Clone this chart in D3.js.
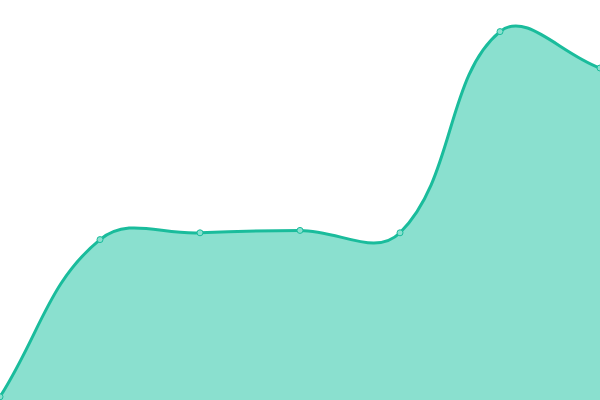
<!DOCTYPE html>
<html lang="en">
<head>
    <meta charset="UTF-8">
    <title>Area</title>
    <script src="https://cdn.jsdelivr.net/npm/d3@7"></script>
    <style>
        html, body { margin: 0; padding: 0; background: #fff; }
        svg { display: block; }
    </style>
</head>
<body>
    <div id="chart"></div>
    <script>
        // values
        var labels = ["A", "B", "C", "D", "E", "F", "G"];
        var values = [0.8, 40.1, 41.8, 42.4, 41.8, 92.1, 83];

        var width = 600,
            height = 400;

        // spline with control points weighted by segment length (tension 0.4)
        function SplineCurve(context) {
            this._context = context;
            this._tension = 0.4;
        }
        SplineCurve.prototype = {
            areaStart: function () { this._line = 0; },
            areaEnd: function () { this._line = NaN; },
            lineStart: function () { this._pts = []; },
            point: function (x, y) { this._pts.push([+x, +y]); },
            lineEnd: function () {
                var p = this._pts, n = p.length, ctx = this._context, t = this._tension;
                if (n) {
                    if (this._line) ctx.lineTo(p[0][0], p[0][1]);
                    else ctx.moveTo(p[0][0], p[0][1]);
                }
                var cps = p.map(function (cur, i) {
                    var prev = p[Math.max(i - 1, 0)], next = p[Math.min(i + 1, n - 1)];
                    var d01 = Math.hypot(cur[0] - prev[0], cur[1] - prev[1]);
                    var d12 = Math.hypot(next[0] - cur[0], next[1] - cur[1]);
                    var s01 = d01 / (d01 + d12) || 0, s12 = d12 / (d01 + d12) || 0;
                    var fa = t * s01, fb = t * s12;
                    return {
                        px: cur[0] - fa * (next[0] - prev[0]),
                        py: cur[1] - fa * (next[1] - prev[1]),
                        nx: cur[0] + fb * (next[0] - prev[0]),
                        ny: cur[1] + fb * (next[1] - prev[1])
                    };
                });
                for (var i = 1; i < n; i++) {
                    ctx.bezierCurveTo(cps[i - 1].nx, cps[i - 1].ny, cps[i].px, cps[i].py, p[i][0], p[i][1]);
                }
                if (this._line || (this._line !== 0 && n === 1)) ctx.closePath();
                this._line = 1 - this._line;
            }
        };
        function splineCurve(context) { return new SplineCurve(context); }

        var svg = d3.select("#chart").append("svg")
            .attr("width", width)
            .attr("height", height);

        var x = d3.scalePoint()
            .domain(labels)
            .range([0, width]);

        var y = d3.scaleLinear()
            .domain([0, 100])
            .range([height, 0]);

        var area = d3.area()
            .x(function (d, i) { return x(labels[i]); })
            .y0(height)
            .y1(function (d) { return y(d); })
            .curve(splineCurve);

        var line = d3.line()
            .x(function (d, i) { return x(labels[i]); })
            .y(function (d) { return y(d); })
            .curve(splineCurve);

        svg.append("path")
            .datum(values)
            .attr("fill", "#8ae0cf")
            .attr("d", area);

        svg.append("path")
            .datum(values)
            .attr("fill", "none")
            .attr("stroke", "#1abc9c")
            .attr("stroke-width", 3)
            .attr("d", line);

        svg.append("g")
            .selectAll("circle")
            .data(values)
            .enter().append("circle")
            .attr("cx", function (d, i) { return x(labels[i]); })
            .attr("cy", function (d) { return y(d); })
            .attr("r", 3)
            .attr("fill", "#8ae0cf")
            .attr("stroke", "#1abc9c")
            .attr("stroke-width", 1);
    </script>
</body>
</html>
